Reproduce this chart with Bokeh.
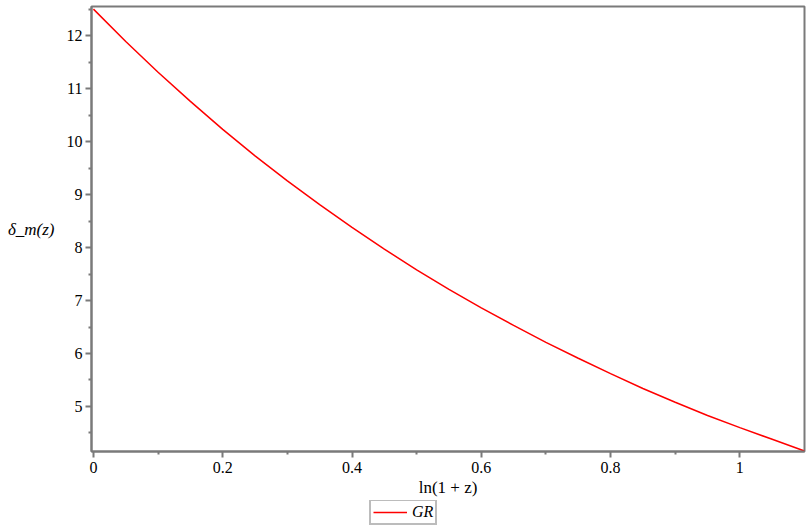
from bokeh.plotting import figure
from bokeh.layouts import column
from bokeh.models import (FixedTicker, Legend, LegendItem, Range1d,
                          CustomJSTickFormatter)
from bokeh.embed import file_html
from bokeh.resources import INLINE

# data
ln_1pz = [0.0, 0.05, 0.1, 0.15, 0.2, 0.25, 0.3, 0.35, 0.4, 0.45, 0.5, 0.55,
          0.6, 0.65, 0.7, 0.75, 0.8, 0.85, 0.9, 0.95, 1.0, 1.05, 1.1]
delta_m = [12.50, 11.89, 11.31, 10.76, 10.23, 9.73, 9.26, 8.81, 8.38, 7.97,
           7.58, 7.21, 6.86, 6.53, 6.21, 5.91, 5.62, 5.34, 5.08, 4.83, 4.60,
           4.38, 4.16]
x_major = [0, 0.2, 0.4, 0.6, 0.8, 1.0]
x_minor = [0.1, 0.3, 0.5, 0.7, 0.9]
y_major = [5, 6, 7, 8, 9, 10, 11, 12]
y_minor = [4.5, 5.5, 6.5, 7.5, 8.5, 9.5, 10.5, 11.5, 12.5]
series_name = "GR"

X0, X1 = -0.003, 1.1
Y0, Y1 = 4.15, 12.55
SERIF = "Liberation Serif"
GREY = "#7a7a7a"

p = figure(width=808, height=500, output_backend="svg", toolbar_location=None,
           x_range=Range1d(X0, X1), y_range=Range1d(Y0, Y1),
           min_border_left=91, min_border_right=4, min_border_top=6,
           min_border_bottom=49)
p.xgrid.visible = False
p.ygrid.visible = False
p.outline_line_color = GREY
p.outline_line_width = 2
p.background_fill_color = "white"
p.border_fill_color = "white"

for ax in (p.xaxis[0], p.yaxis[0]):
    ax.axis_line_color = GREY
    ax.axis_line_width = 2
    ax.major_tick_line_color = GREY
    ax.minor_tick_line_color = GREY
    ax.major_tick_line_width = 2
    ax.minor_tick_line_width = 2
    ax.major_tick_in = 0
    ax.minor_tick_in = 0
    ax.major_label_text_font = SERIF
    ax.major_label_text_font_size = "16px"
    ax.major_label_text_color = "black"
    ax.axis_label_text_font = SERIF
    ax.axis_label_text_font_size = "17px"
    ax.axis_label_text_color = "black"

p.xaxis.ticker = FixedTicker(ticks=x_major, minor_ticks=x_minor)
p.yaxis.ticker = FixedTicker(ticks=y_major, minor_ticks=y_minor)
p.xaxis.major_tick_out = 6
p.xaxis.minor_tick_out = 3
p.yaxis.major_tick_out = 6
p.yaxis.minor_tick_out = 3
p.xaxis.major_label_standoff = 4
p.yaxis.major_label_standoff = 3
p.xaxis.formatter = CustomJSTickFormatter(
    code="return tick.toFixed(1).replace(/\\.0$/, '');")

p.xaxis.axis_label = "ln(1 + z)"
p.xaxis.axis_label_text_font_style = "normal"
p.xaxis.axis_label_standoff = 2
p.yaxis.axis_label = "δ_m(z)"
p.yaxis.axis_label_text_font_style = "italic"
p.yaxis.axis_label_orientation = "horizontal"
p.yaxis.axis_label_standoff = 9

p.line(ln_1pz, delta_m, line_color="red", line_width=1.5)

# legend strip below the plot
q = figure(width=808, height=29, output_backend="svg", toolbar_location=None,
           x_range=Range1d(0, 1), y_range=Range1d(0, 1),
           x_axis_location=None, y_axis_location=None,
           min_border_left=0, min_border_right=0, min_border_top=0,
           min_border_bottom=0)
q.xgrid.visible = False
q.ygrid.visible = False
q.outline_line_color = None
q.border_fill_color = "white"
rq = q.line(ln_1pz[:2], [5, 5], line_color="red", line_width=1.5)  # outside range

legend = Legend(items=[LegendItem(label=series_name, renderers=[rq])],
                location=(278, 4), orientation="horizontal",
                label_text_font=SERIF, label_text_font_style="italic",
                label_text_font_size="16px", label_text_color="black",
                glyph_width=34, glyph_height=14, label_standoff=5,
                padding=2, margin=0, spacing=0,
                border_line_color=GREY, border_line_width=2,
                background_fill_alpha=1.0, label_height=14)
q.add_layout(legend)

layout = column(p, q, spacing=0)
open("out.html", "w").write(file_html(layout, INLINE))
